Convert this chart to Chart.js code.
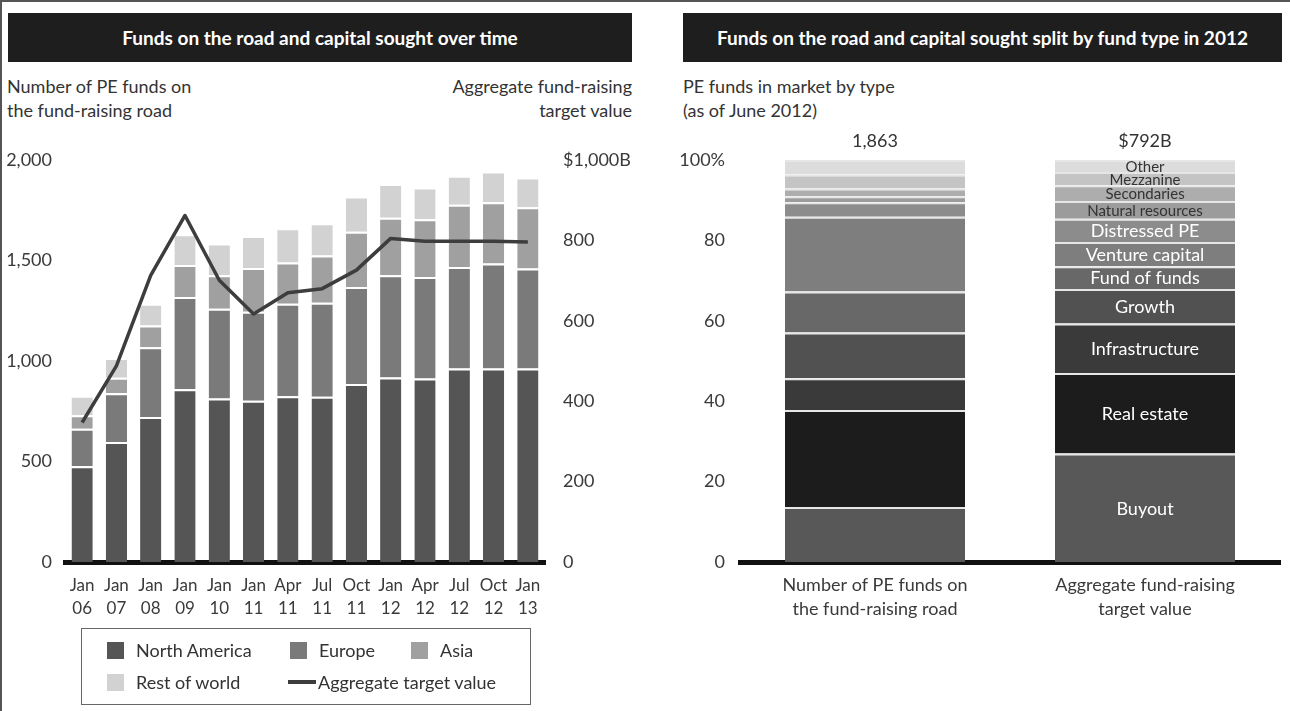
<!DOCTYPE html>
<html>
<head>
<meta charset="utf-8">
<script src="https://cdn.jsdelivr.net/npm/chart.js@4"></script>
<style>
  body { margin: 0; width: 1290px; height: 711px; background: #fff; font-family: Lato, "DejaVu Sans", sans-serif; color: #333; position: relative; overflow: hidden; }
  .frame { position: absolute; left: 0; top: 0; width: 1290px; height: 711px; border-top: 2px solid #555; border-left: 2px solid #555; box-sizing: border-box; }
  .head { position: absolute; top: 13px; height: 49px; background: #1e1e1e; color: #fff; font-weight: bold; font-size: 19px; display: flex; align-items: center; justify-content: center; }
  .note { position: absolute; font-size: 18px; line-height: 24px; color: #333; }
  .box { position: absolute; }
  .legend { position: absolute; left: 81px; top: 628px; width: 450px; height: 77px; border: 1px solid #666; box-sizing: border-box; font-size: 18px; }
  .li { position: absolute; display: flex; align-items: center; height: 20px; }
  .sw { width: 17px; height: 17px; margin-right: 12px; }
  .ln { width: 28px; height: 4px; background: #3d3d3d; margin-right: 2px; }
</style>
</head>
<body>
<div class="frame"></div>
<div class="head" style="left:8px;width:624px;">Funds on the road and capital sought over time</div>
<div class="head" style="left:683px;width:599px;">Funds on the road and capital sought split by fund type in 2012</div>
<div class="note" style="left:7px;top:74px;">Number of PE funds on<br>the fund-raising road</div>
<div class="note" style="left:380px;top:74px;width:252px;text-align:right;">Aggregate fund-raising<br>target value</div>
<div class="note" style="left:683px;top:74px;">PE funds in market by type<br>(as of June 2012)</div>

<div class="box" style="left:0;top:130px;width:645px;height:522px;"><canvas id="timeChart"></canvas></div>
<div class="box" style="left:660px;top:130px;width:630px;height:522px;"><canvas id="typeChart"></canvas></div>

<div class="legend">
  <div class="li" style="left:25px;top:11px;"><span class="sw" style="background:#555"></span>North America</div>
  <div class="li" style="left:208px;top:11px;"><span class="sw" style="background:#7a7a7a"></span>Europe</div>
  <div class="li" style="left:329px;top:11px;"><span class="sw" style="background:#a0a0a0"></span>Asia</div>
  <div class="li" style="left:25px;top:43px;"><span class="sw" style="background:#d2d2d2"></span>Rest of world</div>
  <div class="li" style="left:206px;top:43px;"><span class="ln"></span>Aggregate target value</div>
</div>

<script>
const periods = [["Jan","06"],["Jan","07"],["Jan","08"],["Jan","09"],["Jan","10"],["Jan","11"],["Apr","11"],["Jul","11"],["Oct","11"],["Jan","12"],["Apr","12"],["Jul","12"],["Oct","12"],["Jan","13"]];
const northAmerica = [476, 597, 722, 860, 813, 802, 825, 822, 885, 918, 913, 963, 963, 963];
const europe = [187, 243, 346, 458, 447, 443, 460, 468, 483, 509, 505, 505, 522, 497];
const asia = [67, 77, 109, 159, 167, 218, 205, 235, 275, 286, 287, 309, 305, 305];
const restOfWorld = [97, 98, 108, 153, 158, 159, 170, 160, 175, 167, 158, 145, 153, 148];
const targetValue = [347, 488, 713, 862, 701, 617, 670, 680, 726, 805, 798, 798, 798, 796];

const fundTypes = ["Buyout", "Real estate", "Infrastructure", "Growth", "Fund of funds", "Venture capital", "Distressed PE", "Natural resources", "Secondaries", "Mezzanine", "Other"];
const typeCategories = [["Number of PE funds on", "the fund-raising road"], ["Aggregate fund-raising", "target value"]];
const shareOfFunds = [13.7, 24.1, 7.9, 11.4, 10.2, 18.6, 3.6, 1.5, 1.9, 3.5, 3.6];
const shareOfCapital = [27.0, 20.0, 12.3, 8.6, 5.7, 6.0, 5.8, 4.4, 3.9, 3.3, 3.0];
const barTotals = ["1,863", "$792B"];

const typeColors = ["#585858", "#1c1c1c", "#3a3a3a", "#515151", "#686868", "#7e7e7e", "#8c8c8c", "#9c9c9c", "#adadad", "#c4c4c4", "#dcdcdc"];
const font = "Lato";
const tickFont = { family: font, size: 18 };
const tickColor = "#3a3a3a";

function bar(label, data, color) {
  return {
    type: "bar", label, data, backgroundColor: color, order: 1,
    borderColor: "#fff", borderWidth: { top: 2, left: 0, right: 0, bottom: 0 }, borderSkipped: false,
    barPercentage: 0.62, categoryPercentage: 1, yAxisID: "y",
  };
}

new Chart(document.getElementById("timeChart"), {
  data: {
    labels: periods,
    datasets: [
      { type: "line", label: "Aggregate target value", data: targetValue, yAxisID: "y1", order: 0,
        borderColor: "#3d3d3d", borderWidth: 3.5, pointRadius: 0, tension: 0, borderJoinStyle: "round" },
      bar("North America", northAmerica, "#555555"),
      bar("Europe", europe, "#7a7a7a"),
      bar("Asia", asia, "#a0a0a0"),
      bar("Rest of world", restOfWorld, "#d2d2d2"),
    ],
  },
  options: {
    responsive: true,
    maintainAspectRatio: false,
    animation: false,
    layout: { padding: { top: 30, right: 0, left: 0, bottom: 0 } },
    plugins: { legend: { display: false }, tooltip: { enabled: false } },
    scales: {
      x: {
        stacked: true,
        grid: { display: false },
        border: { display: true, color: "#111", width: 5 },
        ticks: { color: tickColor, font: { family: font, size: 17, lineHeight: 1.35 }, maxRotation: 0, autoSkip: false, padding: 4 },
        afterFit: (s) => { s.height = 90; },
      },
      y: {
        stacked: true, position: "left", min: 0, max: 2000,
        grid: { display: false }, border: { display: false },
        ticks: { stepSize: 500, color: tickColor, font: tickFont, padding: 5,
          callback: (v) => v.toLocaleString("en-US") },
        afterFit: (s) => { s.width = 65; },
      },
      y1: {
        position: "right", min: 0, max: 1000,
        grid: { display: false }, border: { display: false },
        ticks: { stepSize: 200, color: tickColor, font: tickFont, padding: 10,
          callback: (v) => (v === 1000 ? "$1,000B" : v) },
        afterFit: (s) => { s.width = 100; },
      },
    },
  },
});

const typeLabels = {
  id: "typeLabels",
  afterDatasetsDraw(chart) {
    const ctx = chart.ctx;
    ctx.save();
    ctx.textAlign = "center";
    ctx.textBaseline = "middle";
    chart.data.datasets.forEach((ds, i) => {
      const el = chart.getDatasetMeta(i).data[1];
      const small = i >= 7;
      ctx.font = (small ? "15px " : "18px ") + font;
      ctx.fillStyle = small ? "#333" : "#fff";
      ctx.fillText(ds.label, el.x, (el.y + el.base) / 2 + 1);
    });
    const last = chart.data.datasets.length - 1;
    ctx.font = "18px " + font;
    ctx.fillStyle = "#333";
    barTotals.forEach((t, j) => {
      const el = chart.getDatasetMeta(last).data[j];
      ctx.fillText(t, el.x, el.y - 19);
    });
    ctx.restore();
  },
};

new Chart(document.getElementById("typeChart"), {
  type: "bar",
  data: {
    labels: typeCategories,
    datasets: fundTypes.map((name, i) => ({
      label: name,
      data: [shareOfFunds[i], shareOfCapital[i]],
      backgroundColor: typeColors[i],
      borderColor: "#e6e6e6", borderWidth: { top: 2, left: 0, right: 0, bottom: 0 }, borderSkipped: false,
      barPercentage: 0.667, categoryPercentage: 1,
    })),
  },
  options: {
    responsive: true,
    maintainAspectRatio: false,
    animation: false,
    layout: { padding: { top: 30, right: 10, left: 0, bottom: 0 } },
    plugins: { legend: { display: false }, tooltip: { enabled: false } },
    scales: {
      x: {
        stacked: true,
        grid: { display: false },
        border: { display: true, color: "#111", width: 5 },
        ticks: { color: tickColor, font: { family: font, size: 18, lineHeight: 1.35 }, maxRotation: 0, autoSkip: false, padding: 3 },
        afterFit: (s) => { s.height = 90; },
      },
      y: {
        stacked: true, min: 0, max: 100,
        grid: { display: false }, border: { display: false },
        ticks: { stepSize: 20, color: tickColor, font: tickFont, padding: 7,
          callback: (v) => (v === 100 ? "100%" : v) },
        afterFit: (s) => { s.width = 80; },
      },
    },
  },
  plugins: [typeLabels],
});
</script>
</body>
</html>
